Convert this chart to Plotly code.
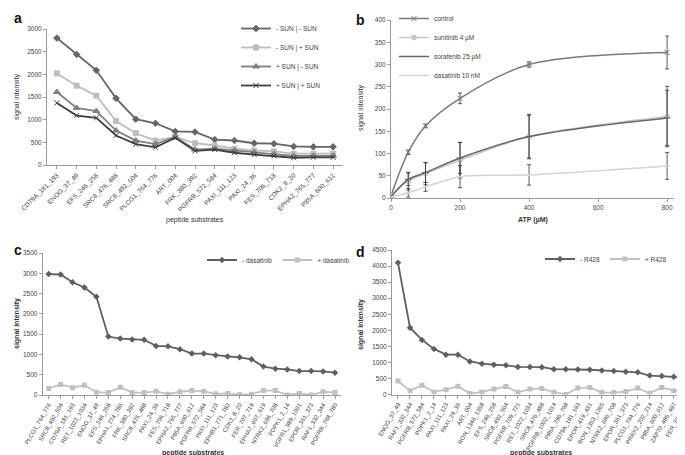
import plotly.graph_objects as go

W, H = 685, 455
FONT = "Liberation Sans"

# ---------------- Panel a data ----------------
a_cats = ["CD79A_181_193", "ENOG_37_49", "EFS_246_258", "SRC8_476_488", "SRC8_492_504",
          "PLCG1_764_776", "ART_004", "FRK_380_392", "PGFRB_572_584", "PAXI_111_123",
          "PAXI_24_36", "FES_706_718", "CDK2_8_20", "EPHA2_765_777", "P85A_600_612"]
a_mm = [2800, 2440, 2090, 1470, 1010, 920, 740, 730, 560, 540, 480, 470, 410, 400, 400]
a_mp = [2020, 1750, 1530, 970, 700, 540, 620, 480, 430, 360, 320, 300, 250, 250, 250]
a_pm = [1610, 1260, 1190, 760, 540, 460, 620, 340, 360, 320, 280, 240, 200, 200, 200]
a_pp = [1370, 1090, 1040, 650, 460, 390, 600, 310, 340, 270, 230, 200, 160, 170, 170]
a_names = ["- SUN | - SUN", "- SUN | + SUN", "+ SUN | - SUN", "+ SUN | + SUN"]

# ---------------- Panel b data ----------------
b_atp = [0, 50, 100, 200, 400, 800]
b_control = [5, 103, 162, 224, 300, 327]
b_control_err = [0, 5, 4, 12, 6, 37]
b_sunitinib = [5, 38, 55, 85, 138, 183]
b_sunitinib_err = [0, 20, 25, 40, 50, 68]
b_sorafenib = [3, 42, 57, 90, 138, 180]
b_sorafenib_err = [0, 14, 22, 35, 48, 62]
b_dasatinib = [2, 12, 25, 48, 52, 72]
b_dasatinib_err = [0, 10, 10, 25, 23, 30]
b_names = ["control", "sunitinib 4 µM", "sorafenib 25 µM", "dasatinib 10 nM"]

# ---------------- Panel c data ----------------
c_cats = ["PLCG1_764_776", "SRC8_492_504", "CD79A_181_193", "RET_1022_1034", "ENOG_37_49",
          "EFS_246_258", "EPHA1_774_786", "FRK_380_392", "SRC8_476_488", "PAXI_24_36",
          "FES_706_718", "EPHA2_765_777", "P85A_600_612", "PGFRB_572_584", "PAXI_111_123",
          "EPHB1_771_783", "CDK2_8_20", "FER_707_719", "EPHA7_607_619", "NTRK2_696_708",
          "PDPK1_2_14", "VGFR1_989_1001", "EPOR_361_373", "RAF1_332_344", "PGFRB_768_780"]
c_minus = [2980, 2970, 2780, 2650, 2420, 1440, 1390, 1370, 1360, 1210, 1200, 1130, 1020,
           1020, 980, 950, 930, 880, 700, 650, 630, 590, 590, 580, 550]
c_plus = [160, 260, 180, 240, 70, 60, 190, 60, 60, 90, 20, 80, 110, 90, 30, 40, 10, 20,
          110, 110, 0, 40, 0, 80, 60]

# ---------------- Panel d data ----------------
d_cats = ["ENOG_37_49", "RAF1_332_344", "PGFRB_572_584", "PDPK1_2_14", "PAXI_111_123",
          "PAXI_24_36", "ART_004", "RON_1346_1358", "EFS_246_258", "SRC8_492_504",
          "PGFRB_709_721", "RET_1022_1034", "SRC8_476_488", "PGFRB_1002_1014", "P85A_786_798",
          "CD79A_181_193", "EPOR_419_431", "RON_1353_1365", "NTRK2_696_708", "EPOR_361_373",
          "PLCG1_764_776", "PRRX2_202_214", "P85A_600_612", "ZAP70_485_497", "FER_707_719"]
d_minus = [4100, 2080, 1700, 1420, 1240, 1240, 1030, 960, 930, 910, 860, 860, 850, 790,
           790, 780, 770, 750, 730, 710, 690, 590, 580, 550, 520]
d_plus = [420, 120, 290, 80, 150, 260, 30, 80, 170, 250, 70, 170, 190, 70, 0, 200, 220,
          60, 60, 90, 200, 40, 220, 120, 80]

fig = go.Figure()

DARK = "#5f5f5f"
LIGHT = "#c0c0c0"

# Panel a traces
a_styles = [("#666666", "diamond", 5), ("#bdbdbd", "square", 5),
            ("#808080", "triangle-up", 6), ("#3f3f3f", "x-thin-open", 5)]
for vals, name, (col, sym, sz) in zip([a_mm, a_mp, a_pm, a_pp], a_names, a_styles):
    fig.add_trace(go.Scatter(x=a_cats, y=vals, name=name, mode="lines+markers",
                             line=dict(color=col, width=1.8),
                             marker=dict(symbol=sym, size=sz, color=col,
                                         line=dict(color=col, width=1)),
                             xaxis="x", yaxis="y", legend="legend"))

# Panel b traces
b_styles = [("#7a7a7a", "x-thin-open", 5), ("#c8c8c8", "circle", 5),
            ("#666666", "line-ew-open", 5), ("#d4d4d4", "line-ew-open", 4)]
for vals, err, name, (col, sym, sz) in zip(
        [b_control, b_sunitinib, b_sorafenib, b_dasatinib],
        [b_control_err, b_sunitinib_err, b_sorafenib_err, b_dasatinib_err],
        b_names, b_styles):
    fig.add_trace(go.Scatter(x=b_atp, y=vals, name=name, mode="lines+markers",
                             line=dict(color=col, width=1.5, shape="spline", smoothing=0.9),
                             marker=dict(symbol=sym, size=sz, color=col,
                                         line=dict(color=col, width=1)),
                             error_y=dict(type="data", array=err, color="#333333",
                                          thickness=0.8, width=2),
                             xaxis="x2", yaxis="y2", legend="legend2"))

# Panel c traces
fig.add_trace(go.Scatter(x=c_cats, y=c_minus, name="- dasatinib", mode="lines+markers",
                         line=dict(color=DARK, width=1.8),
                         marker=dict(symbol="diamond", size=5, color=DARK),
                         xaxis="x3", yaxis="y3", legend="legend3"))
fig.add_trace(go.Scatter(x=c_cats, y=c_plus, name="+ dasatinib", mode="lines+markers",
                         line=dict(color=LIGHT, width=1.8),
                         marker=dict(symbol="square", size=5, color=LIGHT),
                         xaxis="x3", yaxis="y3", legend="legend3"))

# Panel d traces
fig.add_trace(go.Scatter(x=d_cats, y=d_minus, name="- R428", mode="lines+markers",
                         line=dict(color=DARK, width=1.8),
                         marker=dict(symbol="diamond", size=5, color=DARK),
                         xaxis="x4", yaxis="y4", legend="legend4"))
fig.add_trace(go.Scatter(x=d_cats, y=d_plus, name="+ R428", mode="lines+markers",
                         line=dict(color=LIGHT, width=1.8),
                         marker=dict(symbol="square", size=5, color=LIGHT),
                         xaxis="x4", yaxis="y4", legend="legend4"))


def px_x(p):
    return p / W


def px_y(p):
    return 1 - p / H


tickfont = dict(family=FONT, size=6.5, color="#444444")
tickfont_small = dict(family=FONT, size=6, color="#444444")
axis_common = dict(showgrid=False, zeroline=False, showline=True, linecolor="#9a9a9a",
                   linewidth=1, ticks="outside", ticklen=3, tickcolor="#9a9a9a",
                   automargin=False)
legfont = dict(family=FONT, size=6.5, color="#444444")

fig.update_layout(
    width=W, height=H,
    margin=dict(l=0, r=0, t=0, b=0, autoexpand=False),
    paper_bgcolor="white", plot_bgcolor="white",
    font=dict(family=FONT, size=7, color="#333333"),
    xaxis=dict(domain=[px_x(39), px_x(335)], anchor="y", type="category",
               range=[-0.5, 14.5], tickangle=-45, tickfont=tickfont, **axis_common),
    yaxis=dict(domain=[px_y(157), px_y(21)], anchor="x", range=[0, 3000],
               dtick=500, tickfont=tickfont, **axis_common),
    xaxis2=dict(domain=[px_x(383), px_x(666)], anchor="y2", range=[0, 820],
                tickvals=[0, 200, 400, 600, 800], tickfont=tickfont, **axis_common),
    yaxis2=dict(domain=[px_y(190), px_y(12)], anchor="x2", range=[0, 400],
                dtick=50, tickfont=tickfont, **axis_common),
    xaxis3=dict(domain=[px_x(34.7), px_x(333)], anchor="y3", type="category",
                range=[-0.5, 24.5], tickangle=-60, tickfont=tickfont_small, **axis_common),
    yaxis3=dict(domain=[px_y(387), px_y(245)], anchor="x3", range=[0, 3500],
                dtick=500, tickfont=tickfont, **axis_common),
    xaxis4=dict(domain=[px_x(384), px_x(683.7)], anchor="y4", type="category",
                range=[-0.5, 24.5], tickangle=-60, tickfont=tickfont_small, **axis_common),
    yaxis4=dict(domain=[px_y(386.5), px_y(242)], anchor="x4", range=[0, 4500],
                dtick=500, tickfont=tickfont, **axis_common),
    legend=dict(x=px_x(228), y=px_y(6), xanchor="left", yanchor="top",
                font=legfont, bgcolor="rgba(0,0,0,0)", itemwidth=30),
    legend2=dict(x=px_x(386), y=px_y(-4), xanchor="left", yanchor="top",
                 font=legfont, bgcolor="rgba(0,0,0,0)", itemwidth=30),
    legend3=dict(x=px_x(194), y=px_y(252), xanchor="left", yanchor="middle",
                 orientation="h", font=legfont, bgcolor="rgba(0,0,0,0)", itemwidth=30),
    legend4=dict(x=px_x(532), y=px_y(251), xanchor="left", yanchor="middle",
                 orientation="h", font=legfont, bgcolor="rgba(0,0,0,0)", itemwidth=30),
    showlegend=True,
)

annos = [
    dict(text="<b>a</b>", x=px_x(4), y=px_y(10)),
    dict(text="<b>b</b>", x=px_x(346), y=px_y(12)),
    dict(text="<b>c</b>", x=px_x(4), y=px_y(242)),
    dict(text="<b>d</b>", x=px_x(346), y=px_y(244)),
]
for a in annos:
    fig.add_annotation(text=a["text"], x=a["x"], y=a["y"], xref="paper", yref="paper",
                       xanchor="left", yanchor="middle", showarrow=False,
                       font=dict(family="Liberation Sans", size=14, color="#111111"))

titles = [
    ("signal intensity", px_x(9), px_y(89), -90, False),
    ("peptide substrates", px_x(187), px_y(212), 0, False),
    ("signal intensity", px_x(353), px_y(100), -90, False),
    ("ATP (µM)", px_x(525), px_y(212), 0, True),
    ("signal intensity", px_x(9), px_y(316), -90, True),
    ("peptide substrates", px_x(185), px_y(445), 0, True),
    ("signal intensity", px_x(353), px_y(316), -90, True),
    ("peptide substrates", px_x(533), px_y(445), 0, True),
]
for txt, x, y, ang, bold in titles:
    fig.add_annotation(text=f"<b>{txt}</b>" if bold else txt, x=x, y=y, xref="paper",
                       yref="paper", xanchor="center", yanchor="middle", showarrow=False,
                       textangle=ang, font=dict(family=FONT, size=7, color="#333333"))

fig.write_html("out.html")
